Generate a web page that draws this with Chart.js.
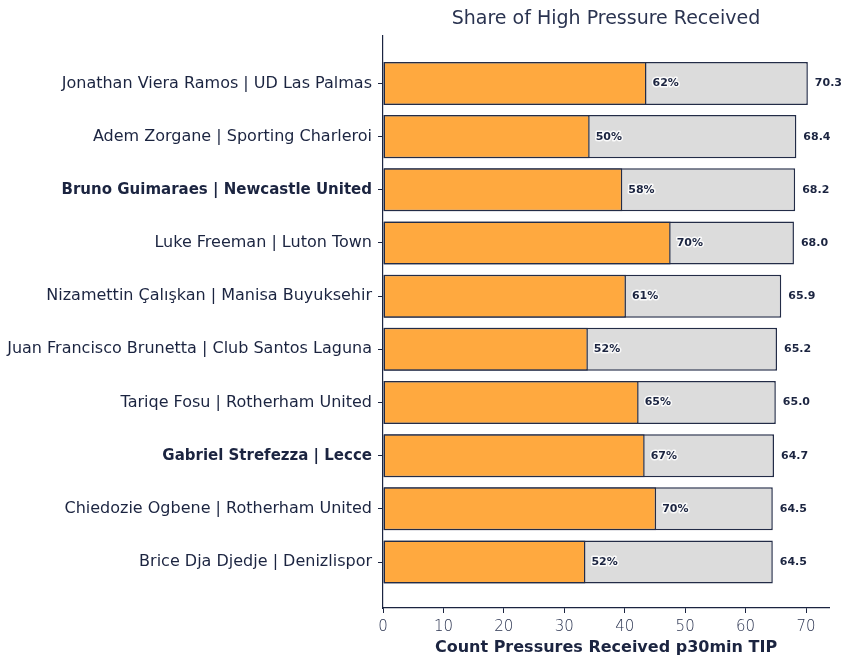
<!DOCTYPE html>
<html><head><meta charset="utf-8">
<script src="https://cdn.jsdelivr.net/npm/chart.js@4.4.1/dist/chart.umd.min.js"></script>
<style>html,body{margin:0;padding:0;background:#fff}#wrap{width:844px;height:657px}</style>
</head><body><div id="wrap"><canvas id="c" width="844" height="657"></canvas></div>
<script>
const players = [
  "Jonathan Viera Ramos | UD Las Palmas",
  "Adem Zorgane | Sporting Charleroi",
  "Bruno Guimaraes | Newcastle United",
  "Luke Freeman | Luton Town",
  "Nizamettin Çalışkan | Manisa Buyuksehir",
  "Juan Francisco Brunetta | Club Santos Laguna",
  "Tariqe Fosu | Rotherham United",
  "Gabriel Strefezza | Lecce",
  "Chiedozie Ogbene | Rotherham United",
  "Brice Dja Djedje | Denizlispor"
];
const boldPlayers = ["Bruno Guimaraes | Newcastle United", "Gabriel Strefezza | Lecce"];
const totalPressures = [70.3, 68.4, 68.2, 68.0, 65.9, 65.2, 65.0, 64.7, 64.5, 64.5];
const highPressures = [43.6, 34.2, 39.6, 47.6, 40.2, 33.9, 42.3, 43.3, 45.2, 33.5];
const highShareLabels = ["62%", "50%", "58%", "70%", "61%", "52%", "65%", "67%", "70%", "52%"];
const xTicks = [0, 10, 20, 30, 40, 50, 60, 70];

const FONT = "'DejaVu Sans', 'Open Sans', sans-serif";
const NAVY = "#1b2440";
const EDGE = "#232c47";

const labelPlugin = {
  id: 'barLabels',
  afterDatasetsDraw(chart) {
    const ctx = chart.ctx;
    const hi = chart.getDatasetMeta(0).data;
    const tot = chart.getDatasetMeta(1).data;
    ctx.save();
    ctx.font = "bold 11px " + FONT;
    ctx.textBaseline = 'middle';
    ctx.textAlign = 'left';
    ctx.lineJoin = 'round';
    const draw = (t, x, y) => {
      ctx.strokeStyle = 'rgba(255,255,255,0.85)';
      ctx.lineWidth = 3;
      ctx.strokeText(t, x, y);
      ctx.fillStyle = NAVY;
      ctx.fillText(t, x, y);
    };
    hi.forEach((bar, i) => draw(highShareLabels[i], bar.x + 6, bar.y));
    tot.forEach((bar, i) => draw(totalPressures[i].toFixed(1), bar.x + 7, bar.y));
    ctx.restore();
  }
};

new Chart(document.getElementById('c'), {
  type: 'bar',
  data: {
    datasets: [
      {
        label: 'High pressures',
        data: highPressures.map((v, i) => ({x: v, y: i})),
        backgroundColor: '#ffa93f',
        borderColor: EDGE,
        borderWidth: 1.5,
        borderSkipped: false,
        categoryPercentage: 0.81,
        barPercentage: 1,
        grouped: false
      },
      {
        label: 'Total pressures',
        data: totalPressures.map((v, i) => ({x: v, y: i})),
        backgroundColor: '#dcdcdc',
        borderColor: EDGE,
        borderWidth: 1.5,
        borderSkipped: false,
        categoryPercentage: 0.81,
        barPercentage: 1,
        grouped: false
      }
    ]
  },
  options: {
    indexAxis: 'y',
    responsive: false,
    animation: false,
    devicePixelRatio: 1,
    layout: {padding: {left: 0, right: 15, top: 0, bottom: 0}},
    plugins: {
      legend: {display: false},
      tooltip: {enabled: false},
      title: {
        display: true,
        text: 'Share of High Pressure Received',
        fullSize: false,
        color: '#2a3350',
        font: {family: FONT, size: 19, weight: 'normal', lineHeight: 1.2},
        padding: {top: 8, bottom: 5.2}
      }
    },
    scales: {
      x: {
        type: 'linear',
        min: 0,
        max: 73.8,
        offset: false,
        afterBuildTicks: s => { s.ticks = xTicks.map(v => ({value: v})); },
        afterFit: s => { s.height = 49; },
        border: {display: true, color: NAVY, width: 1.2},
        grid: {display: true, offset: false, drawOnChartArea: false, drawTicks: true, tickLength: 5, color: NAVY, lineWidth: 1},
        ticks: {color: '#2a3350', font: {family: FONT, size: 15, weight: '200'}, padding: 5},
        title: {display: true, text: 'Count Pressures Received p30min TIP', color: NAVY,
          font: {family: FONT, size: 16, weight: 'bold'}, padding: {top: 0, bottom: 0}}
      },
      y: {
        type: 'linear',
        min: -0.893,
        max: 9.865,
        reverse: true,
        offset: false,
        afterBuildTicks: s => { s.ticks = players.map((_, i) => ({value: i})); },
        afterFit: s => { s.width = 383; },
        border: {display: true, color: NAVY, width: 1.2},
        grid: {display: true, offset: false, drawOnChartArea: false, drawTicks: true, tickLength: 5, color: NAVY, lineWidth: 1},
        ticks: {
          color: NAVY,
          padding: 6,
          autoSkip: false,
          callback: v => players[v],
          font: c => boldPlayers.includes(players[c.index])
            ? {family: FONT, size: 15, weight: 'bold'}
            : {family: FONT, size: 16, weight: 'normal'}
        }
      }
    }
  },
  plugins: [labelPlugin]
});
</script>
</body></html>
